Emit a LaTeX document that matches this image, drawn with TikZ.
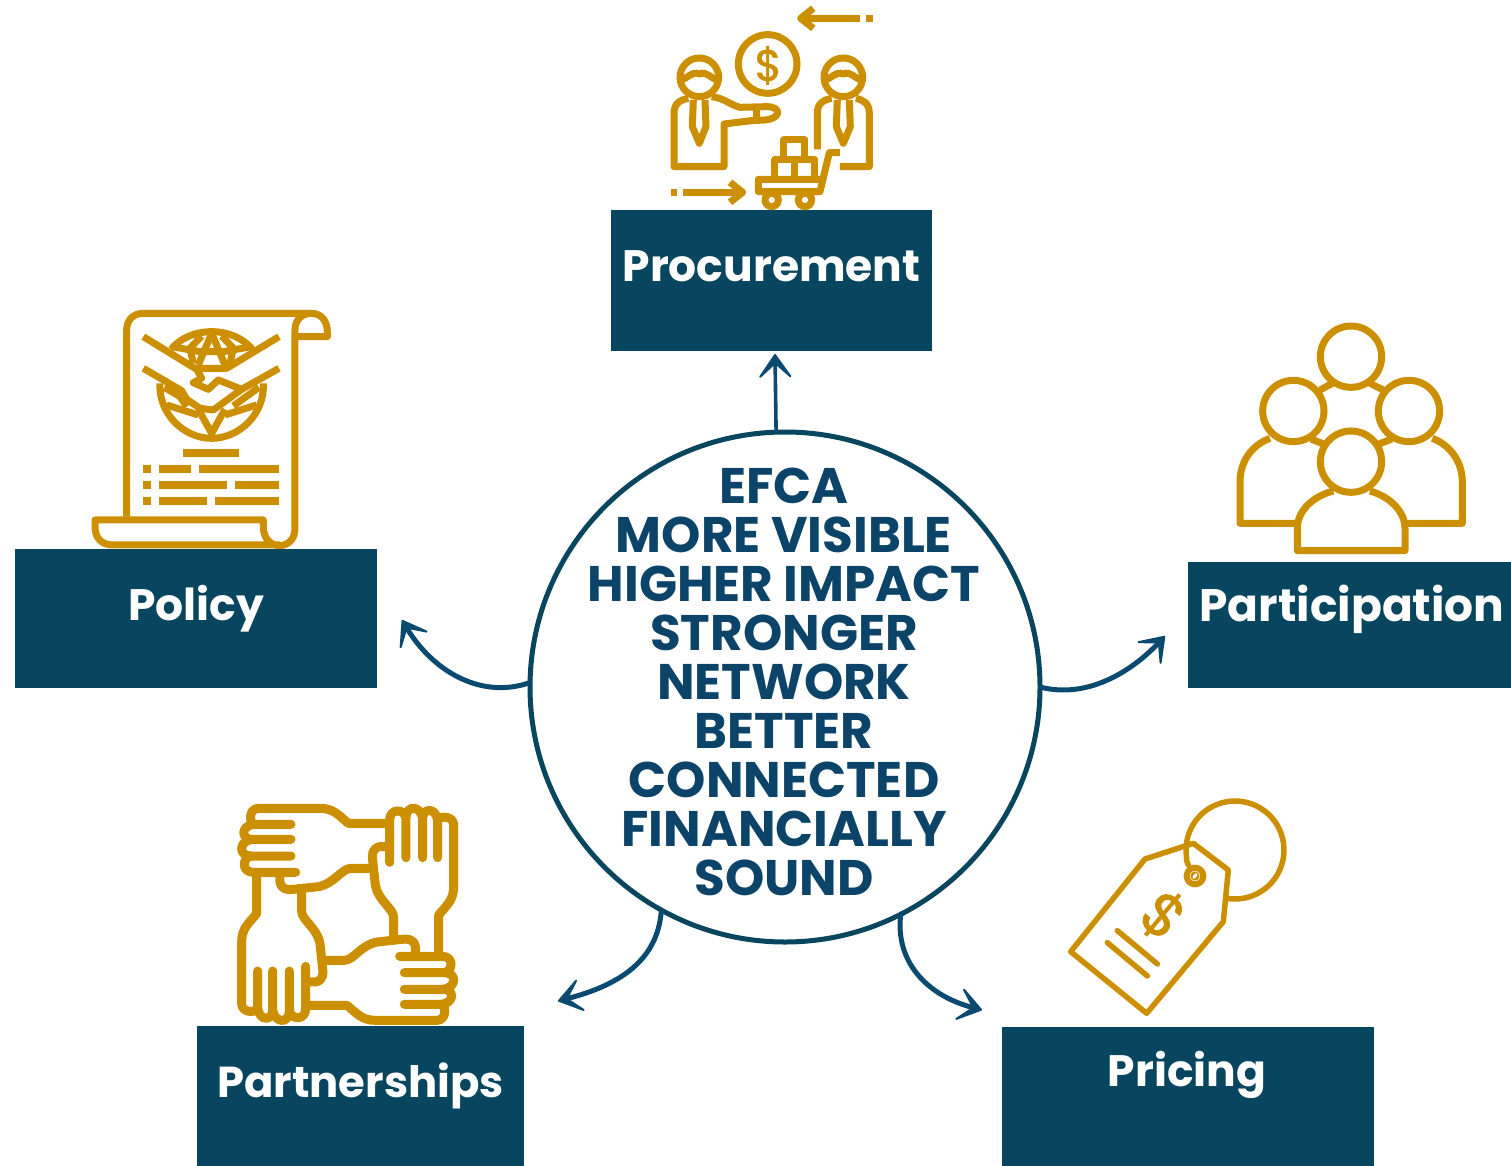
\documentclass[tikz,border=0pt]{standalone}
\usepackage{fontspec}
\setmainfont{Poppins}
\newfontfamily\dollarfont[FakeBold=1.2]{Poppins}
\usetikzlibrary{arrows.meta}
\definecolor{navy}{HTML}{08465F}
\definecolor{hubnavy}{HTML}{0B4468}
\definecolor{linkblue}{HTML}{0B4A70}
\definecolor{gold}{HTML}{CC8F00}
\tikzset{
  box/.style={fill=navy,draw=none,inner sep=0,outer sep=0},
  boxlabel/.style={text=white,font=\fontsize{#1}{50}\selectfont\bfseries,inner sep=0},
  boxlabel/.default=44,
  hub/.style={circle,draw=navy,line width=5pt,fill=white,inner sep=0,outer sep=0,minimum size=510pt},
  hubtext/.style={text=hubnavy,align=center,inner sep=0,font=\fontsize{50}{49}\selectfont\bfseries},
  link/.style={draw=linkblue,line width=5pt,-{Stealth[length=30pt,width=42pt,inset=19pt,round,line width=2pt]}},
  icon/.style={draw=gold,line width=7pt,line join=round,line cap=butt},
  iconhand/.style={draw=gold,line width=9pt,line join=round,line cap=round},
  iconthin/.style={draw=gold,line width=5.5pt,line join=round,line cap=round},
  icontext/.style={text=gold,inner sep=0}
}
\begin{document}
\begin{tikzpicture}[x=1pt,y=-1pt]
\useasboundingbox (0,0) rectangle (1511,1166);
% boxes
\node[box,minimum width=321pt,minimum height=141pt] (procbox) at (771.5,280.5) {};
\node[box,minimum width=362pt,minimum height=139pt] (polbox) at (196,618.5) {};
\node[box,minimum width=323pt,minimum height=126pt] (partbox) at (1349.5,625) {};
\node[box,minimum width=327pt,minimum height=140pt] (shipbox) at (360.5,1096) {};
\node[box,minimum width=372pt,minimum height=139pt] (pricebox) at (1188,1096.5) {};
\node[boxlabel] (proclabel) at (771.5,266) {Procurement};
\node[boxlabel] (pollabel) at (196,609) {Policy};
\node[boxlabel=45.5] (partlabel) at (1352,609) {Participation};
\node[boxlabel=43.3] (shiplabel) at (360.5,1086) {Partnerships};
\node[boxlabel] (pricelabel) at (1187,1075) {Pricing};
% hub
\node[hub] (hubc) at (785,687) {};
\node[hubtext] (hubt) at (784,682) {EFCA\\MORE VISIBLE\\HIGHER IMPACT\\STRONGER\\NETWORK\\BETTER\\CONNECTED\\FINANCIALLY\\SOUND};
% connectors
\coordinate (endproc) at (775,354);
\coordinate (endpol) at (402,620);
\coordinate (endpart) at (1165,636);
\coordinate (endship) at (558,1001);
\coordinate (endprice) at (982,1010);
\draw[link,line width=3.6pt] (hubc.92) -- (endproc);
\draw[link] (hubc.179) .. controls (480,700) and (432,670) .. (endpol);
\draw[link] (hubc.0) .. controls (1090,700) and (1135,668) .. (endpart);
\draw[link] (hubc.-119) .. controls (658,960) and (620,985) .. (endship);
\draw[link] (hubc.-63) .. controls (895,960) and (925,995) .. (endprice);
% procurement icon
\begin{scope}[shift={(650,0)},x=0.3333pt,y=-0.3333pt]
 \draw[icon] (630,55) -- (460,55);
 \draw[icon] (490,25) -- (452,55) -- (490,85);
 \fill[gold] (648,45) rectangle (668,65);
 \draw[icon] (353,192) circle[radius=88];
 \node[icontext,font=\dollarfont\fontsize{44}{44}\selectfont] (coin) at (355,196) {\$};
 \draw[icon] (148,232) circle[radius=58];
 \draw[icon] (92,240) .. controls (115,235) and (125,212) .. (148,222) .. controls (170,212) and (180,235) .. (204,240);
 \draw[icon] (115,295) .. controls (90,300) and (72,310) .. (72,340) -- (72,500) -- (222,500) -- (222,372) -- (305,362) -- (345,360) .. controls (395,355) and (395,320) .. (350,320) -- (270,322) .. controls (240,315) and (225,295) .. (185,290);
 \draw[icon] (318,322) -- (318,360);
 \draw[icon] (130,300) -- (127,380) -- (148,430) -- (168,380) -- (165,300);
 \draw[icon] (580,232) circle[radius=58];
 \draw[icon] (524,240) .. controls (547,235) and (557,212) .. (580,222) .. controls (602,212) and (612,235) .. (636,240);
 \draw[icon] (502,448) -- (502,340) .. controls (502,310) and (520,300) .. (545,295);
 \draw[icon] (618,295) .. controls (640,300) and (658,310) .. (658,340) -- (658,500) -- (570,500);
 \draw[icon] (562,300) -- (559,380) -- (580,430) -- (601,380) -- (598,300);
 \draw[icon] (570,458) -- (538,458) -- (510,575) -- (325,575) -- (325,538) -- (510,538);
 \draw[icon] (375,535) -- (375,480) -- (495,480) -- (495,535);
 \draw[icon] (433,480) -- (433,535);
 \draw[icon] (402,478) -- (402,420) -- (465,420) -- (465,478);
 \draw[icon] (365,600) circle[radius=20];
 \draw[icon] (465,600) circle[radius=20];
 \fill[gold] (62,567) rectangle (80,587);
 \draw[icon] (100,577) -- (270,577);
 \draw[icon] (240,547) -- (278,577) -- (240,607);
\end{scope}
% policy icon
\begin{scope}[shift={(85,300)},x=0.3333pt,y=-0.3333pt]
 \draw[icon] (125,650) -- (125,90) .. controls (125,60) and (145,40) .. (175,40) -- (680,40) .. controls (710,40) and (727,65) .. (727,95) -- (727,110) -- (632,110);
 \draw[icon] (680,40) .. controls (650,40) and (630,60) .. (630,90) -- (630,685) .. controls (630,755) and (535,755) .. (535,680) -- (535,660) -- (30,660) -- (30,680) .. controls (30,715) and (50,735) .. (85,735) -- (585,735);
 \draw[icon] (175,110) -- (330,205) -- (425,205) -- (582,110);
 \draw[icon] (175,205) -- (290,272) -- (305,298) -- (345,325) -- (385,330) -- (470,268) -- (582,205);
 \draw[icon] (335,207) -- (350,235) -- (325,248) -- (370,268) -- (400,240) -- (470,268);
 \draw[icon] (258,148) .. controls (285,115) and (330,95) .. (380,95) .. controls (430,95) and (475,115) .. (502,148);
 \draw[icon] (380,100) -- (340,195); \draw[icon] (380,100) -- (420,195);
 \draw[icon] (272,142) -- (345,155) -- (415,155) -- (488,142);
 \draw[icon] (350,108) -- (315,145) -- (325,190);
 \draw[icon] (410,108) -- (445,145) -- (435,190);
 \draw[icon] (225,250) .. controls (220,340) and (295,415) .. (380,415) .. controls (465,415) and (540,340) .. (535,250);
 \draw[icon] (238,262) -- (285,290) -- (305,320);
 \draw[icon] (522,262) -- (445,318);
 \draw[icon] (340,328) -- (380,400) -- (420,328);
 \draw[icon] (245,315) -- (340,345); \draw[icon] (515,315) -- (420,345);
 \fill[gold] (295,447) rectangle (463,470);
 \fill[gold] (175,495) rectangle (198,518);
 \fill[gold] (223,495) rectangle (318,518);
 \fill[gold] (342,495) rectangle (582,518);
 \fill[gold] (175,543) rectangle (198,566);
 \fill[gold] (223,543) rectangle (427,566);
 \fill[gold] (450,543) rectangle (582,566);
 \fill[gold] (175,592) rectangle (198,615);
 \fill[gold] (223,592) rectangle (366,615);
 \fill[gold] (391,592) rectangle (582,615);
\end{scope}
% partnerships icon
\begin{scope}[shift={(225,795)},x=0.3333pt,y=-0.3333pt]
 \foreach \ang in {0,-90,-180,-270}{
  \begin{scope}[rotate around={\ang:(368,358)}]
   \draw[iconhand] (490,85) -- (370,85) .. controls (340,60) and (325,40) .. (285,40) -- (100,40) .. controls (75,40) and (70,75) .. (85,88) -- (198,88);
   \draw[iconhand] (85,88) .. controls (45,95) and (50,133) .. (80,133) -- (198,133);
   \draw[iconhand] (80,133) .. controls (40,140) and (40,183) .. (78,183) -- (198,183);
   \draw[iconhand] (78,183) .. controls (50,190) and (50,232) .. (85,232) -- (212,232);
   \draw[iconhand] (165,240) -- (165,262) .. controls (170,285) and (190,285) .. (205,283) -- (280,275) .. controls (330,265) and (350,220) .. (378,220) -- (445,220);
  \end{scope}
 }
\end{scope}
% pricing icon
\begin{scope}[shift={(1060,790)},x=0.3333pt,y=-0.3333pt]
 \draw[iconthin] (32,485) -- (255,207) -- (400,160) -- (505,240) -- (490,395) -- (260,670) -- cycle;
 \draw[iconthin] (385,225) .. controls (380,215) and (379,208) .. (379.4,200.5) arc[start angle=172,end angle=460,radius=147];
 \draw[iconthin,line width=6pt] (405,258) circle[radius=25];
 \fill[gold] (405,258) circle[radius=14];
 \fill[white,rotate around={50:(405,258)}] (405,258) ellipse[x radius=10,y radius=5];
 \draw[iconthin] (172,422) -- (292,522);
 \draw[iconthin] (142,458) -- (262,558);
 \node[icontext,rotate=-40,font=\dollarfont\fontsize{60}{60}\selectfont] (tagdollar) at (310,377) {\$};
\end{scope}
% participation icon
\begin{scope}[shift={(1225,315)},x=0.3333pt,y=-0.3333pt]
 \draw[icon] (378,125) circle[radius=92];
 \draw[icon] (205,288) circle[radius=92];
 \draw[icon] (552,288) circle[radius=92];
 \draw[icon] (378,440) circle[radius=92];
 \draw[icon] (285,225) -- (322,205);
 \draw[icon] (435,205) -- (475,225);
 \draw[icon] (258,372) -- (298,388);
 \draw[icon] (460,388) -- (500,372);
 \draw[icon] (135,370) .. controls (80,390) and (45,440) .. (45,500) -- (45,625) -- (217,625);
 \draw[icon] (622,370) .. controls (675,390) and (712,440) .. (712,500) -- (712,625) -- (540,625);
 \draw[icon] (325,528) .. controls (260,545) and (217,590) .. (217,640) -- (217,707) -- (540,707) -- (540,640) .. controls (540,590) and (495,545) .. (435,528);
\end{scope}
\end{tikzpicture}
\end{document}
